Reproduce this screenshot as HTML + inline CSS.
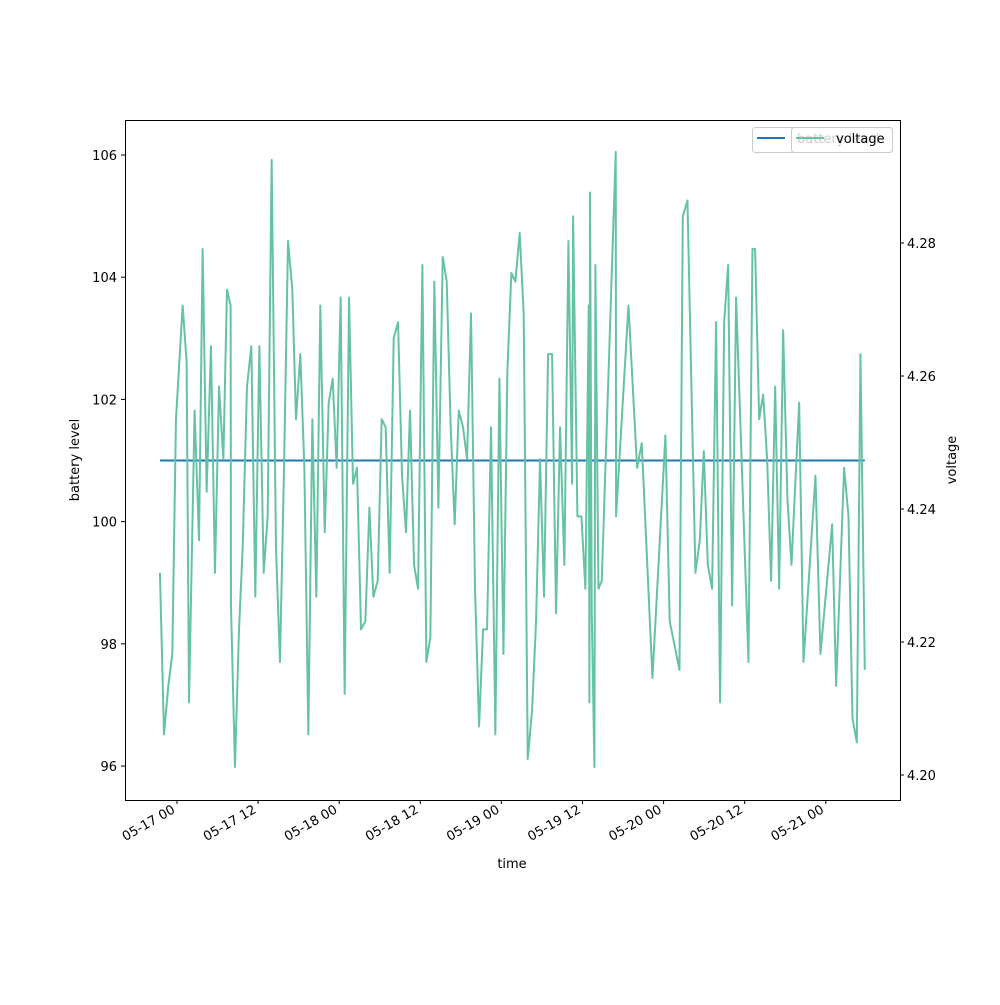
<!DOCTYPE html>
<html><head><meta charset="utf-8"><style>
body{margin:0;background:#fff;}
svg text{font-family:"DejaVu Sans","Liberation Sans",sans-serif;font-size:13px;fill:#000;}
</style></head><body>
<svg id="chart" width="1000" height="1000" xmlns="http://www.w3.org/2000/svg">
<rect width="1000" height="1000" fill="#fff"/>
<g id="series"></g>
<rect x="125.5" y="120.5" width="775" height="680" fill="none" stroke="#000" stroke-width="1"/>
<g id="axes"></g>
<text x="512" y="868" text-anchor="middle">time</text>
<text transform="translate(79,460) rotate(-90)" text-anchor="middle">battery level</text>
<text transform="translate(956,460) rotate(-90)" text-anchor="middle">voltage</text>
<g>
<rect x="752.5" y="127.5" width="140" height="25" rx="3" fill="#fff" fill-opacity="0.8" stroke="#ccc"/>
<line x1="757" y1="138" x2="785" y2="138" stroke="#1f77b4" stroke-width="2"/>
<text x="797" y="143">battery level</text>
</g>
<g>
<rect x="791.5" y="127.5" width="101" height="25" rx="3" fill="#fff" fill-opacity="0.8" stroke="#ccc"/>
<line x1="796" y1="138" x2="824" y2="138" stroke="#66c2a5" stroke-width="2"/>
<text x="836" y="143">voltage</text>
</g>
</svg>
<script>
// hours since 05-17 00:00
const times = [-2.52,-1.92,-1.28,-0.69,-0.15,0.84,1.43,1.78,2.61,3.26,3.80,4.39,5.03,5.62,6.22,6.86,7.40,7.94,7.99,8.58,9.18,9.72,10.36,11.00,11.59,12.19,12.83,13.42,14.01,14.65,15.24,15.84,16.43,17.07,17.61,18.25,18.85,19.44,20.03,20.62,21.21,21.86,22.45,23.04,23.63,24.22,24.81,25.46,26.05,26.64,27.23,27.87,28.47,29.06,29.70,30.29,30.88,31.47,32.07,32.71,33.30,33.89,34.48,35.08,35.67,36.31,36.90,37.49,38.08,38.68,39.32,39.91,40.50,41.09,41.69,42.33,42.92,43.51,44.10,44.70,45.29,45.88,46.47,47.11,47.71,48.30,48.89,49.48,50.07,50.71,51.30,51.90,52.54,53.13,53.72,54.31,54.91,55.50,56.09,56.68,57.32,57.92,58.46,58.61,59.25,59.84,60.43,60.93,61.02,61.12,61.37,61.77,61.91,62.36,62.85,64.92,64.97,66.80,68.08,68.77,70.35,72.27,72.91,74.35,74.84,75.53,76.71,77.36,77.95,78.54,79.18,79.77,80.36,80.96,81.55,82.14,82.73,84.56,85.15,85.54,86.14,86.73,87.32,87.91,88.51,89.10,89.69,90.33,90.92,92.06,92.70,94.47,95.21,96.94,97.53,98.71,99.36,99.95,100.59,101.13,101.77];
const voltage = [4.2304,4.2061,4.2134,4.2182,4.2535,4.2706,4.2621,4.2109,4.2548,4.2353,4.2791,4.2426,4.2645,4.2304,4.2584,4.2475,4.2730,4.2706,4.2255,4.2012,4.2219,4.2341,4.2584,4.2645,4.2268,4.2645,4.2304,4.2389,4.2925,4.2341,4.2170,4.2462,4.2803,4.2730,4.2535,4.2633,4.2462,4.2061,4.2535,4.2268,4.2706,4.2365,4.2560,4.2596,4.2462,
4.2718,4.2122,4.2718,4.2438,4.2462,4.2219,4.2231,4.2402,4.2268,4.2292,4.2535,4.2523,4.2304,4.2657,4.2681,4.2450,4.2365,4.2548,4.2316,4.2280,4.2767,4.2170,4.2207,4.2742,4.2402,4.2779,4.2742,4.2523,4.2377,4.2548,4.2523,4.2475,4.2694,4.2280,4.2073,4.2219,4.2219,4.2523,4.2061,4.2596,4.2182,4.2608,4.2755,4.2742,
4.2815,4.2694,4.2024,4.2097,4.2231,4.2475,4.2268,4.2633,4.2633,4.2243,4.2523,4.2316,4.2803,4.2438,4.2840,4.2389,4.2389,4.2280,4.2706,4.2109,4.2876,4.2243,4.2012,4.2767,4.2280,4.2292,4.2937,4.2389,4.2706,4.2462,4.2499,4.2146,4.2511,4.2231,4.2158,4.2840,4.2864,4.2304,
4.2353,4.2487,4.2316,4.2280,4.2681,4.2109,4.2681,4.2767,4.2255,4.2718,4.2170,4.2791,4.2791,4.2535,4.2572,4.2475,4.2292,4.2584,4.2280,4.2669,4.2414,4.2316,4.2560,4.2170,4.2450,4.2182,4.2377,4.2134,4.2462,4.2389,4.2085,4.2049,4.2633,4.2158];
const batteryLevel = [101, 101];
const batteryTimes = [-2.52, 101.77];
const xTickHours = [0,12,24,36,48,60,72,84,96];
const xTickLabels = ["05-17 00","05-17 12","05-18 00","05-18 12","05-19 00","05-19 12","05-20 00","05-20 12","05-21 00"];
const yTicks = [96,98,100,102,104,106];
const y2Ticks = [4.20,4.22,4.24,4.26,4.28];

const L=125,R=900,T=120,B=800;
const xMin=-7.69,xMax=106.98;
const yMin=95.444,yMax=106.573;
const y2Min=4.19624,y2Max=4.2985;
const xs=h=>L+(h-xMin)/(xMax-xMin)*(R-L);
const ys=v=>B-(v-yMin)/(yMax-yMin)*(B-T);
const y2s=v=>B-(v-y2Min)/(y2Max-y2Min)*(B-T);
const NS="http://www.w3.org/2000/svg";
const axes=document.getElementById('axes'), series=document.getElementById('series');
function mk(tag,attrs,parent){const e=document.createElementNS(NS,tag);for(const k in attrs)e.setAttribute(k,attrs[k]);parent.appendChild(e);return e;}

xTickHours.forEach((h,i)=>{
  const x=xs(h);
  const t=mk('line',{x1:x,y1:B,x2:x,y2:B+4,stroke:'#000'},axes);
  
  
  const ax=x-1, ay=B+12;
  const lb=mk('text',{x:ax,y:ay,'text-anchor':'end',transform:`rotate(-30 ${ax} ${ay})`},axes);
  lb.textContent=xTickLabels[i];
  
  
});
yTicks.forEach(v=>{
  const y=ys(v);
  const t=mk('line',{x1:L-4,y1:y,x2:L,y2:y,stroke:'#000'},axes);
  
  
  const lb=mk('text',{x:L-8,y:y+5,'text-anchor':'end'},axes);
  lb.textContent=String(v);
  
  
});
y2Ticks.forEach(v=>{
  const y=y2s(v);
  const t=mk('line',{x1:R,y1:y,x2:R+4,y2:y,stroke:'#000'},axes);
  
  
  const lb=mk('text',{x:R+7,y:y+5,'text-anchor':'start'},axes);
  lb.textContent=v.toFixed(2);
  
  
});

const bl=mk('polyline',{points:batteryTimes.map((t,i)=>xs(t)+','+ys(batteryLevel[i])).join(' '),fill:'none',stroke:'#1f77b4','stroke-width':2},series);


const vl=mk('polyline',{points:times.map((t,i)=>xs(t)+','+y2s(voltage[i])).join(' '),fill:'none',stroke:'#66c2a5','stroke-width':2,'stroke-linejoin':'round'},series);


</script>
</body></html>
